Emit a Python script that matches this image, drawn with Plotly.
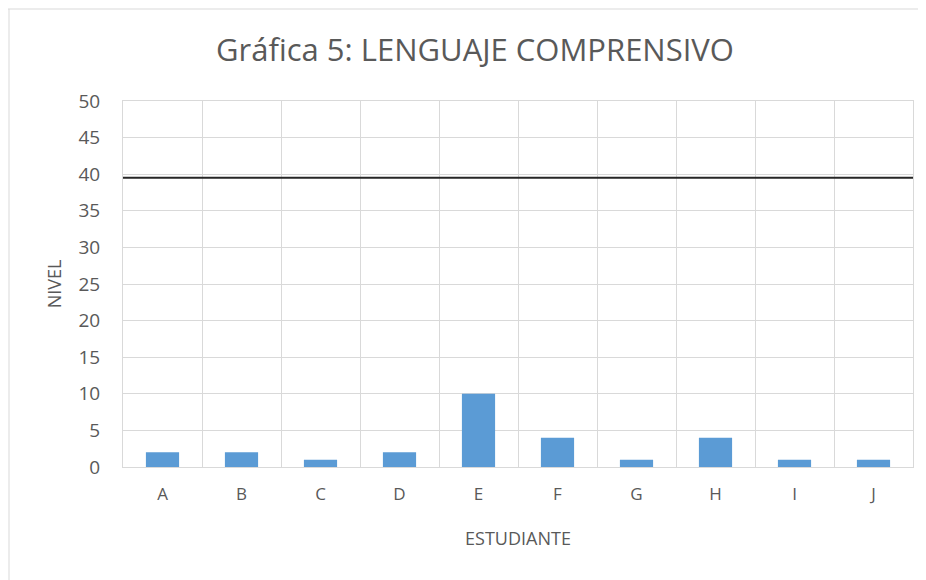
import plotly.graph_objects as go

estudiantes = ["A", "B", "C", "D", "E", "F", "G", "H", "I", "J"]
nivel = [2, 2, 1, 2, 10, 4, 1, 4, 1, 1]
referencia = 39.5
y_ticks = [0, 5, 10, 15, 20, 25, 30, 35, 40, 45, 50]

FONT = "Open Sans"
GREY = "#595959"
GRID = "#d9d9d9"

W, H = 918, 572  # page body has an 8px default margin
fig = go.Figure()
fig.add_trace(go.Bar(x=estudiantes, y=nivel, marker=dict(color="#5b9bd5", line=dict(width=0)),
                     showlegend=False))

fig.update_layout(
    width=W, height=H,
    paper_bgcolor="white", plot_bgcolor="white",
    margin=dict(l=115, r=13, t=93, b=113, autoexpand=False),
    bargap=0.58,
    title=dict(text="Gráfica 5: LENGUAJE COMPRENSIVO", x=(467 - 115) / 790, xanchor="center",
               xref="paper",
               y=1 - 42 / H, yanchor="middle",
               font=dict(family=FONT, size=31, color=GREY)),
    font=dict(family=FONT, color=GREY, size=17),
    xaxis=dict(type="category", tickson="boundaries", showgrid=True, gridcolor=GRID,
               gridwidth=1, ticks="", tickfont=dict(size=17, color=GREY),
               ticklabelstandoff=12,
               showline=True, linecolor=GRID, mirror=True,
               title=dict(text="ESTUDIANTE", font=dict(size=18, color=GREY), standoff=27)),
    yaxis=dict(range=[0, 50], tickvals=y_ticks, showgrid=True, gridcolor=GRID,
               gridwidth=1, ticks="", tickfont=dict(size=19, color=GREY), zeroline=False,
               ticklabelstandoff=18,
               showline=True, linecolor=GRID, mirror=True,
               title=dict(text="NIVEL", font=dict(size=18, color=GREY), standoff=12)),
    shapes=[
        dict(type="line", xref="paper", yref="y", x0=0, x1=1, y0=referencia, y1=referencia,
             line=dict(color="#262626", width=2), layer="above"),
        dict(type="line", xref="paper", yref="paper", x0=-115 / 790, x1=1 + 13 / 790,
             y0=1 + 92 / 366, y1=1 + 92 / 366, line=dict(color=GRID, width=1)),
        dict(type="line", xref="paper", yref="paper", x0=-114 / 790, x1=-114 / 790,
             y0=-113 / 366, y1=1 + 92 / 366, line=dict(color=GRID, width=1)),
    ],
)

fig.write_html("out.html")
